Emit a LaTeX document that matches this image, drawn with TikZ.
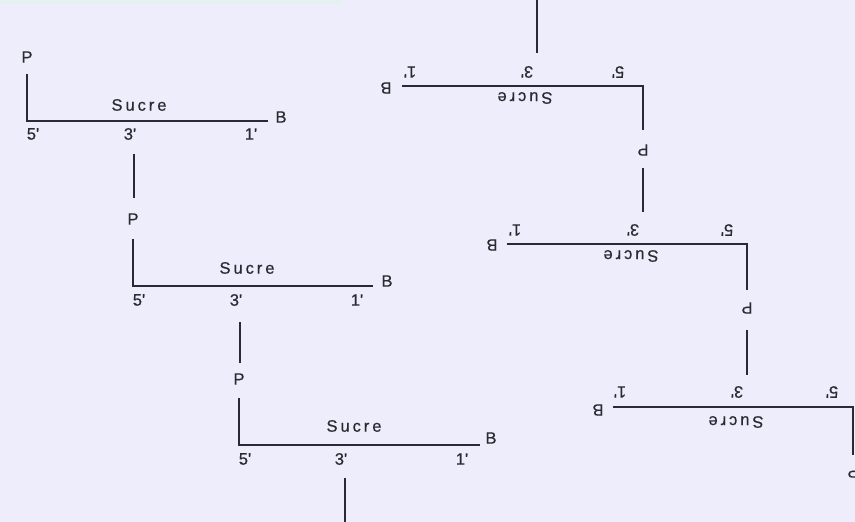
\documentclass[tikz,border=0pt]{standalone}
\usepackage{fontspec}
\newfontfamily\labfont[Ligatures=TeXOff,FakeBold=0.6]{Liberation Sans}
\newfontfamily\wordfont[LetterSpace=18,Ligatures=TeXOff,FakeBold=0.6]{Liberation Sans}
\definecolor{paper}{HTML}{EDEDFC}
\definecolor{stripc}{HTML}{E3F1F1}
\definecolor{linec}{HTML}{2A2A36}
\definecolor{txt}{HTML}{2A2A30}
\begin{document}
\begin{tikzpicture}[x=1bp,y=-1bp,
  backbone/.style={draw=linec, line width=1.7bp},
  lbl/.style={font=\labfont\fontsize{16.5bp}{18bp}\selectfont, text=txt, inner sep=0pt},
  sugar/.style={lbl, font=\wordfont\fontsize{16.5bp}{18bp}\selectfont},
  flip/.style={lbl, rotate=180},
  flipsugar/.style={sugar, rotate=180}]
\useasboundingbox (0,0) rectangle (855,522);
\clip (0,0) rectangle (855,522);
\fill[paper] (0,0) rectangle (855,522);
\fill[stripc] (0,0) rectangle (341,4);

% ---- left strand, read top to bottom ----
% unit 1
\node[lbl] (pL1) at (27,57) {P};
\coordinate (pL1s) at (27,74);
\coordinate (cL1) at (27,121);
\coordinate (eL1) at (268,121);
\draw[backbone] (pL1s) -- (cL1) -- (eL1);
\node[sugar] (sL1) at (139,105) {Sucre};
\node[lbl] (bL1) at (281,117) {B};
\node[lbl] (f5L1) at (33,134) {5'};
\node[lbl] (f3L1) at (130,134) {3'};
\node[lbl] (f1L1) at (251,134) {1'};
\coordinate (dL1a) at (134,154);
\coordinate (dL1b) at (134,198);
\draw[backbone] (dL1a) -- (dL1b);

% unit 2
\node[lbl] (pL2) at (133,219) {P};
\coordinate (pL2s) at (133,239);
\coordinate (cL2) at (133,286);
\coordinate (eL2) at (373,286);
\draw[backbone] (pL2s) -- (cL2) -- (eL2);
\node[sugar] (sL2) at (247,268) {Sucre};
\node[lbl] (bL2) at (387,281) {B};
\node[lbl] (f5L2) at (139,300) {5'};
\node[lbl] (f3L2) at (236,300) {3'};
\node[lbl] (f1L2) at (357,300) {1'};
\coordinate (dL2a) at (240,322);
\coordinate (dL2b) at (240,363);
\draw[backbone] (dL2a) -- (dL2b);

% unit 3
\node[lbl] (pL3) at (239,379) {P};
\coordinate (pL3s) at (239,398);
\coordinate (cL3) at (239,445);
\coordinate (eL3) at (480,445);
\draw[backbone] (pL3s) -- (cL3) -- (eL3);
\node[sugar] (sL3) at (354,426) {Sucre};
\node[lbl] (bL3) at (491,438) {B};
\node[lbl] (f5L3) at (245,459) {5'};
\node[lbl] (f3L3) at (341,459) {3'};
\node[lbl] (f1L3) at (462,459) {1'};
\coordinate (dL3a) at (345,478);
\coordinate (dL3b) at (345,526);
\draw[backbone] (dL3a) -- (dL3b);

% ---- right strand, drawn upside down ----
% unit 1
\coordinate (uR1a) at (537,-4);
\coordinate (uR1b) at (537,53);
\draw[backbone] (uR1a) -- (uR1b);
\coordinate (eR1) at (402,86);
\coordinate (cR1) at (643,86);
\coordinate (pR1s) at (643,130);
\draw[backbone] (eR1) -- (cR1) -- (pR1s);
\node[flip] (bR1) at (386,88) {B};
\node[flip] (f1R1) at (410,72) {1'};
\node[flip] (f3R1) at (527,72) {3'};
\node[flip] (f5R1) at (618,72) {5'};
\node[flipsugar] (sR1) at (525,98) {Sucre};
\node[flip] (pR1) at (643,150) {P};

% unit 2
\coordinate (uR2a) at (643,168);
\coordinate (uR2b) at (643,212);
\draw[backbone] (uR2a) -- (uR2b);
\coordinate (eR2) at (507,244);
\coordinate (cR2) at (747,244);
\coordinate (pR2s) at (747,290);
\draw[backbone] (eR2) -- (cR2) -- (pR2s);
\node[flip] (bR2) at (492,245) {B};
\node[flip] (f1R2) at (515,230) {1'};
\node[flip] (f3R2) at (633,230) {3'};
\node[flip] (f5R2) at (727,230) {5'};
\node[flipsugar] (sR2) at (631,256) {Sucre};
\node[flip] (pR2) at (747,308) {P};

% unit 3
\coordinate (uR3a) at (747,330);
\coordinate (uR3b) at (747,375);
\draw[backbone] (uR3a) -- (uR3b);
\coordinate (eR3) at (613,407);
\coordinate (cR3) at (853,407);
\coordinate (pR3s) at (853,455);
\draw[backbone] (eR3) -- (cR3) -- (pR3s);
\node[flip] (bR3) at (598,410) {B};
\node[flip] (f1R3) at (620,392) {1'};
\node[flip] (f3R3) at (737,392) {3'};
\node[flip] (f5R3) at (832,392) {5'};
\node[flipsugar] (sR3) at (736,422) {Sucre};
\node[flip] (pR3) at (853,472) {P};
\end{tikzpicture}
\end{document}
